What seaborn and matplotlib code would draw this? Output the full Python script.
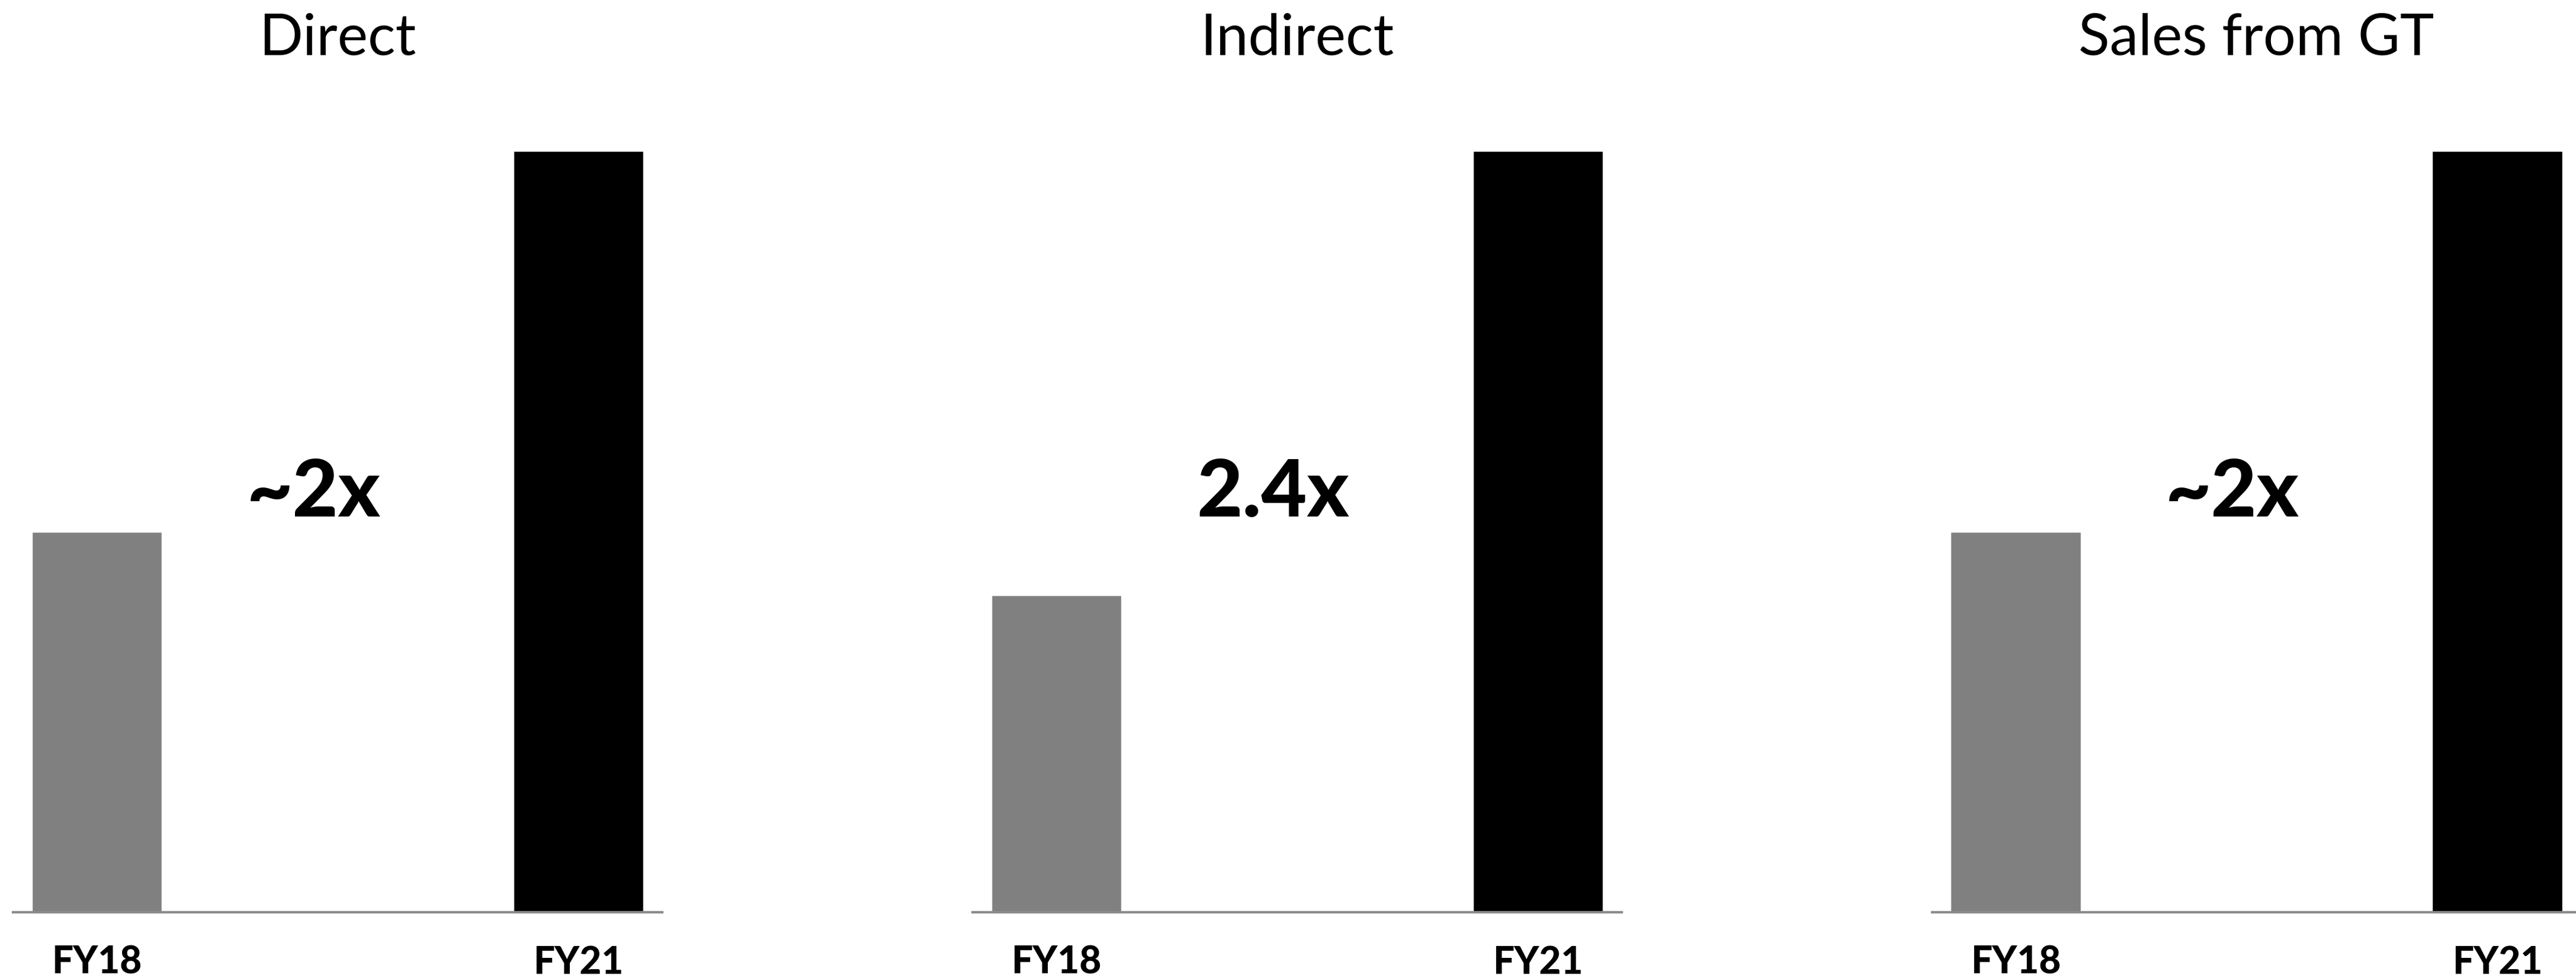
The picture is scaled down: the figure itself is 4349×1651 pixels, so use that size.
import matplotlib
matplotlib.use('Agg')
import matplotlib.pyplot as plt
import seaborn as sns
import pandas as pd

sns.set_theme(style='white')
plt.rcParams['font.family'] = ['Lato', 'DejaVu Sans']

# -----------------------------
# data
# -----------------------------
panels = ['Direct', 'Indirect', 'Sales from GT']
years = ['FY18', 'FY21']
direct_vals = [1.0, 2.0]
indirect_vals = [1.0, 2.4]
gt_vals = [1.0, 2.0]
growth_labels = ['~2x', '2.4x', '~2x']

bar_colors = ['#808080', '#000000']

fig = plt.figure(figsize=(43.49, 16.51), dpi=100)

# axes placement (figure fraction)
lefts = [0.0051, 0.3776, 0.7500]
ax_w, ax_b, ax_h = 0.2519, 0.0672, 0.7782

all_vals = [direct_vals, indirect_vals, gt_vals]
for i, (title, vals, label) in enumerate(zip(panels, all_vals, growth_labels)):
    ax = fig.add_axes([lefts[i], ax_b, ax_w, ax_h])
    df = pd.DataFrame({'year': years, 'value': vals})
    sns.barplot(data=df, x='year', y='value', hue='year', palette=bar_colors,
                width=0.27, legend=False, ax=ax, saturation=1)
    ax.set_xlim(-0.174, 1.174)
    ax.set_ylim(0, max(vals))

    # only the baseline is kept
    for side in ['top', 'right', 'left']:
        ax.spines[side].set_visible(False)
    ax.spines['bottom'].set_color('#8c8c8c')
    ax.spines['bottom'].set_linewidth(3)
    ax.set_yticks([])
    ax.set_xlabel('')
    ax.set_ylabel('')
    ax.tick_params(axis='x', length=0, pad=40)
    for t in ax.get_xticklabels():
        t.set_fontsize(46)
        t.set_fontweight('black')
        t.set_color('black')

    ax.text(0.5, 1.148, title, transform=ax.transAxes, ha='center', va='center',
            fontsize=70, fontweight='normal', color='black')
    ax.text(0.45, 0.55 * max(vals), label, ha='center', va='center',
            fontsize=96, fontweight='black', color='black')

plt.savefig('out.png', dpi=100)
plt.close()
